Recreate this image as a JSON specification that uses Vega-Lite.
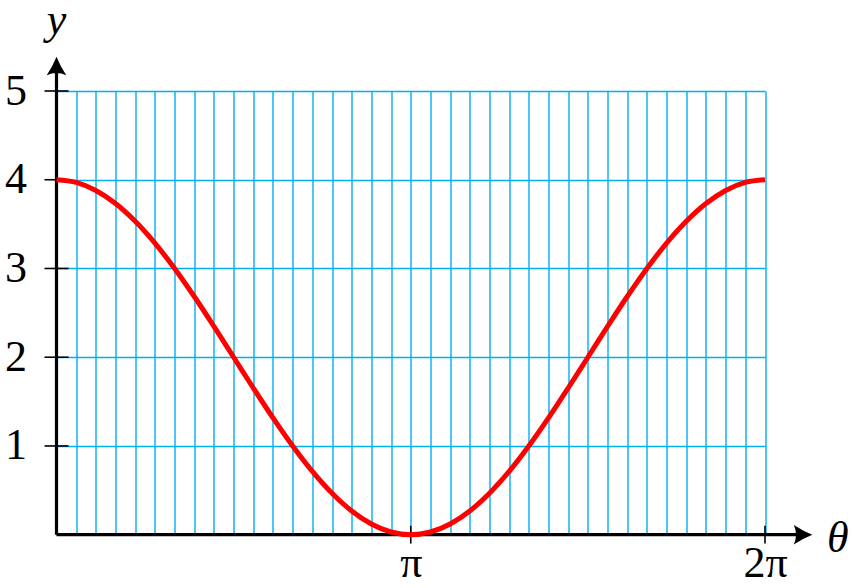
{
  "$schema": "https://vega.github.io/schema/vega-lite/v6.json",
  "width": 708.5,
  "height": 443.7,
  "autosize": {"type": "none"},
  "padding": {"left": 56.5, "top": 91, "right": 93, "bottom": 53.3},
  "background": "white",
  "config": {
    "view": {"stroke": null},
    "font": "Liberation Serif",
    "axis": {
      "grid": true, "gridColor": "#00aeef", "gridWidth": 1.4,
      "domain": false, "ticks": false,
      "labelOverlap": false, "labelFlush": false,
      "labelFont": "Liberation Serif", "labelFontSize": 44, "labelColor": "black"
    },
    "axisX": {"labelBaseline": "alphabetic", "labelPadding": 42},
    "axisY": {"labelBaseline": "middle", "labelPadding": 30}
  },
  "datasets": {
    "curve": [
      {"theta": 0, "y": 4.0}, {"theta": 10, "y": 3.970}, {"theta": 20, "y": 3.879}, {"theta": 30, "y": 3.732},
      {"theta": 40, "y": 3.532}, {"theta": 50, "y": 3.286}, {"theta": 60, "y": 3.0}, {"theta": 70, "y": 2.684},
      {"theta": 80, "y": 2.347}, {"theta": 90, "y": 2.0}, {"theta": 100, "y": 1.653}, {"theta": 110, "y": 1.316},
      {"theta": 120, "y": 1.0}, {"theta": 130, "y": 0.714}, {"theta": 140, "y": 0.468}, {"theta": 150, "y": 0.268},
      {"theta": 160, "y": 0.121}, {"theta": 170, "y": 0.030}, {"theta": 180, "y": 0.0}, {"theta": 190, "y": 0.030},
      {"theta": 200, "y": 0.121}, {"theta": 210, "y": 0.268}, {"theta": 220, "y": 0.468}, {"theta": 230, "y": 0.714},
      {"theta": 240, "y": 1.0}, {"theta": 250, "y": 1.316}, {"theta": 260, "y": 1.653}, {"theta": 270, "y": 2.0},
      {"theta": 280, "y": 2.347}, {"theta": 290, "y": 2.684}, {"theta": 300, "y": 3.0}, {"theta": 310, "y": 3.286},
      {"theta": 320, "y": 3.532}, {"theta": 330, "y": 3.732}, {"theta": 340, "y": 3.879}, {"theta": 350, "y": 3.970},
      {"theta": 360, "y": 4.0}
    ],
    "yticks": [{"v": 1}, {"v": 2}, {"v": 3}, {"v": 4}, {"v": 5}],
    "xticks": [{"v": 180}, {"v": 360}],
    "one": [{}]
  },
  "layer": [
    {
      "data": {"name": "one"},
      "mark": {"type": "rule", "color": "black", "strokeWidth": 3.2},
      "encoding": {
        "x": {"datum": 0, "type": "quantitative", "scale": {"domain": [0, 360], "nice": false, "zero": false},
              "axis": {"title": null, "values": [0,10,20,30,40,50,60,70,80,90,100,110,120,130,140,150,160,170,180,190,200,210,220,230,240,250,260,270,280,290,300,310,320,330,340,350,360], "labelExpr": "datum.value == 180 ? 'π' : (datum.value == 360 ? '2π' : '')"}},
        "x2": {"datum": 379},
        "y": {"datum": 0, "type": "quantitative", "scale": {"domain": [0, 5], "nice": false, "zero": false},
              "axis": {"title": null, "values": [1, 2, 3, 4, 5], "format": "d"}}
      }
    },
    {
      "data": {"name": "one"},
      "mark": {"type": "rule", "color": "black", "strokeWidth": 3.2},
      "encoding": {
        "x": {"datum": 0, "type": "quantitative",
              "axis": {"title": null, "values": [0,10,20,30,40,50,60,70,80,90,100,110,120,130,140,150,160,170,180,190,200,210,220,230,240,250,260,270,280,290,300,310,320,330,340,350,360], "labelExpr": "datum.value == 180 ? 'π' : (datum.value == 360 ? '2π' : '')"}},
        "y": {"datum": 0, "type": "quantitative",
              "axis": {"title": null, "values": [1, 2, 3, 4, 5], "format": "d"}},
        "y2": {"datum": 5.28}
      }
    },
    {
      "data": {"name": "yticks"},
      "mark": {"type": "rule", "color": "black", "strokeWidth": 1.6},
      "encoding": {
        "x": {"datum": -6.1, "type": "quantitative",
              "axis": {"title": null, "values": [0,10,20,30,40,50,60,70,80,90,100,110,120,130,140,150,160,170,180,190,200,210,220,230,240,250,260,270,280,290,300,310,320,330,340,350,360], "labelExpr": "datum.value == 180 ? 'π' : (datum.value == 360 ? '2π' : '')"}},
        "x2": {"datum": 6.1},
        "y": {"field": "v", "type": "quantitative",
              "axis": {"title": null, "values": [1, 2, 3, 4, 5], "format": "d"}}
      }
    },
    {
      "data": {"name": "xticks"},
      "mark": {"type": "rule", "color": "black", "strokeWidth": 1.6},
      "encoding": {
        "x": {"field": "v", "type": "quantitative",
              "axis": {"title": null, "values": [0,10,20,30,40,50,60,70,80,90,100,110,120,130,140,150,160,170,180,190,200,210,220,230,240,250,260,270,280,290,300,310,320,330,340,350,360], "labelExpr": "datum.value == 180 ? 'π' : (datum.value == 360 ? '2π' : '')"}},
        "y": {"datum": -0.1, "type": "quantitative",
              "axis": {"title": null, "values": [1, 2, 3, 4, 5], "format": "d"}},
        "y2": {"datum": 0.1}
      }
    },
    {
      "data": {"name": "one"},
      "mark": {"type": "point", "filled": true, "color": "black", "opacity": 1, "size": 380,
               "shape": "M 1 0 Q 0.1 -0.35 -0.9 -1 Q -0.45 0 -0.9 1 Q 0.1 0.35 1 0 Z"},
      "encoding": {
        "x": {"datum": 379.1, "type": "quantitative",
              "axis": {"title": null, "values": [0,10,20,30,40,50,60,70,80,90,100,110,120,130,140,150,160,170,180,190,200,210,220,230,240,250,260,270,280,290,300,310,320,330,340,350,360], "labelExpr": "datum.value == 180 ? 'π' : (datum.value == 360 ? '2π' : '')"}},
        "y": {"datum": 0, "type": "quantitative",
              "axis": {"title": null, "values": [1, 2, 3, 4, 5], "format": "d"}}
      }
    },
    {
      "data": {"name": "one"},
      "mark": {"type": "point", "filled": true, "color": "black", "opacity": 1, "size": 380,
               "shape": "M 0 -1 Q -0.35 -0.1 -1 0.9 Q 0 0.45 1 0.9 Q 0.35 -0.1 0 -1 Z"},
      "encoding": {
        "x": {"datum": 0, "type": "quantitative",
              "axis": {"title": null, "values": [0,10,20,30,40,50,60,70,80,90,100,110,120,130,140,150,160,170,180,190,200,210,220,230,240,250,260,270,280,290,300,310,320,330,340,350,360], "labelExpr": "datum.value == 180 ? 'π' : (datum.value == 360 ? '2π' : '')"}},
        "y": {"datum": 5.276, "type": "quantitative",
              "axis": {"title": null, "values": [1, 2, 3, 4, 5], "format": "d"}}
      }
    },
    {
      "data": {"name": "curve"},
      "mark": {"type": "line", "color": "#ff0000", "strokeWidth": 5, "interpolate": "monotone"},
      "encoding": {
        "x": {"field": "theta", "type": "quantitative",
              "axis": {"title": null, "values": [0,10,20,30,40,50,60,70,80,90,100,110,120,130,140,150,160,170,180,190,200,210,220,230,240,250,260,270,280,290,300,310,320,330,340,350,360], "labelExpr": "datum.value == 180 ? 'π' : (datum.value == 360 ? '2π' : '')"}},
        "y": {"field": "y", "type": "quantitative",
              "axis": {"title": null, "values": [1, 2, 3, 4, 5], "format": "d"}}
      }
    },
    {
      "data": {"name": "one"},
      "mark": {"type": "text", "text": "y", "font": "Liberation Serif", "fontStyle": "italic", "fontSize": 44, "align": "center", "baseline": "alphabetic", "color": "black"},
      "encoding": {
        "x": {"datum": 0, "type": "quantitative",
              "axis": {"title": null, "values": [0,10,20,30,40,50,60,70,80,90,100,110,120,130,140,150,160,170,180,190,200,210,220,230,240,250,260,270,280,290,300,310,320,330,340,350,360], "labelExpr": "datum.value == 180 ? 'π' : (datum.value == 360 ? '2π' : '')"}},
        "y": {"datum": 5.64, "type": "quantitative",
              "axis": {"title": null, "values": [1, 2, 3, 4, 5], "format": "d"}}
      }
    },
    {
      "data": {"name": "one"},
      "mark": {"type": "text", "text": "θ", "font": "Liberation Serif", "fontStyle": "italic", "fontSize": 44, "align": "center", "baseline": "alphabetic", "color": "black"},
      "encoding": {
        "x": {"datum": 397, "type": "quantitative",
              "axis": {"title": null, "values": [0,10,20,30,40,50,60,70,80,90,100,110,120,130,140,150,160,170,180,190,200,210,220,230,240,250,260,270,280,290,300,310,320,330,340,350,360], "labelExpr": "datum.value == 180 ? 'π' : (datum.value == 360 ? '2π' : '')"}},
        "y": {"datum": -0.195, "type": "quantitative",
              "axis": {"title": null, "values": [1, 2, 3, 4, 5], "format": "d"}}
      }
    }
  ]
}
